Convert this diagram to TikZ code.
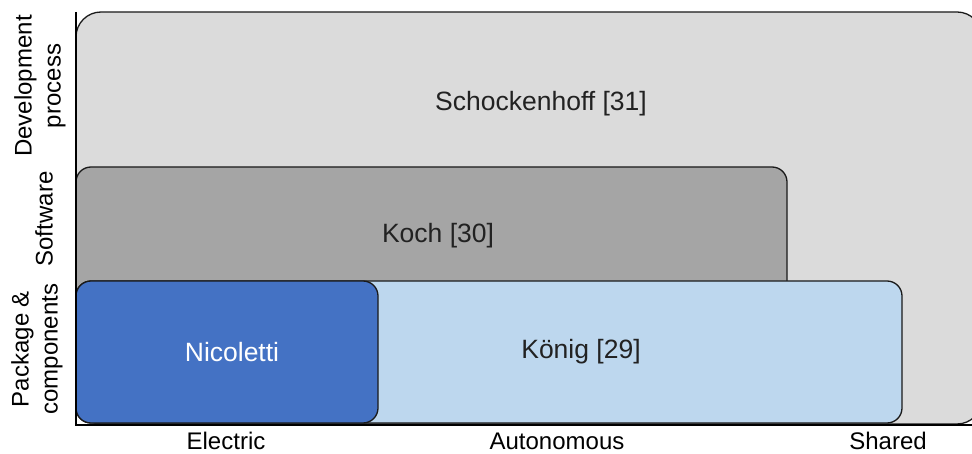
\documentclass[tikz,border=0pt]{standalone}
\usepackage{fontspec}
\setmainfont{Liberation Sans}
\definecolor{devgray}{HTML}{DBDBDB}
\definecolor{swgray}{HTML}{A5A5A5}
\definecolor{pkgblue}{HTML}{BDD7EE}
\definecolor{elecblue}{HTML}{4472C4}
\definecolor{edgegray}{HTML}{1A1A1A}
\definecolor{inkgray}{HTML}{222222}
\begin{document}
\begin{tikzpicture}[x=1pt,y=-1pt,
  area/.style={draw=edgegray, line width=1.3pt},
  lbl/.style={font=\fontsize{26.5}{30}\selectfont, inner sep=0pt, text=inkgray},
  catlbl/.style={font=\fontsize{24}{29}\selectfont, inner sep=0pt, anchor=base},
  axlbl/.style={font=\fontsize{24}{29}\selectfont, inner sep=0pt, align=center, rotate=90},
  axis/.style={line width=2.2pt, black}]
  \useasboundingbox (0,0) rectangle (972,454);
  \clip (0,0) rectangle (972,454);

  % scope areas, widest first
  \filldraw[area, fill=devgray, rounded corners=25pt] (76,12) rectangle (982,424);
  \filldraw[area, fill=swgray, rounded corners=15pt] (76,167) rectangle (787,330);
  \filldraw[area, fill=pkgblue, rounded corners=15pt] (76,281) rectangle (902,423);
  \filldraw[area, fill=elecblue, rounded corners=15pt] (76,281) rectangle (378,423);

  \node[lbl] (schock) at (541,104) {Schockenhoff [31]};
  \node[lbl] (koch) at (438,236) {Koch [30]};
  \node[lbl] (koenig) at (581,352) {König [29]};
  \node[lbl, text=white] (nico) at (232,352) {Nicoletti};

  % axes
  \coordinate (origin) at (76,425);
  \coordinate (ytop) at (76,12);
  \coordinate (xend) at (972,425);
  \draw[axis] (ytop) -- (origin) -- (xend);

  % axis category labels
  \node[catlbl] (electric) at (226,449) {Electric};
  \node[catlbl] (auto) at (557,449) {Autonomous};
  \node[catlbl] (shared) at (888,449) {Shared};
  \node[axlbl] (dev) at (40,86) {Development\\process};
  \node[axlbl] (sw) at (44,219) {Software};
  \node[axlbl] (pkg) at (37,349) {Package \&\\components};
\end{tikzpicture}
\end{document}
